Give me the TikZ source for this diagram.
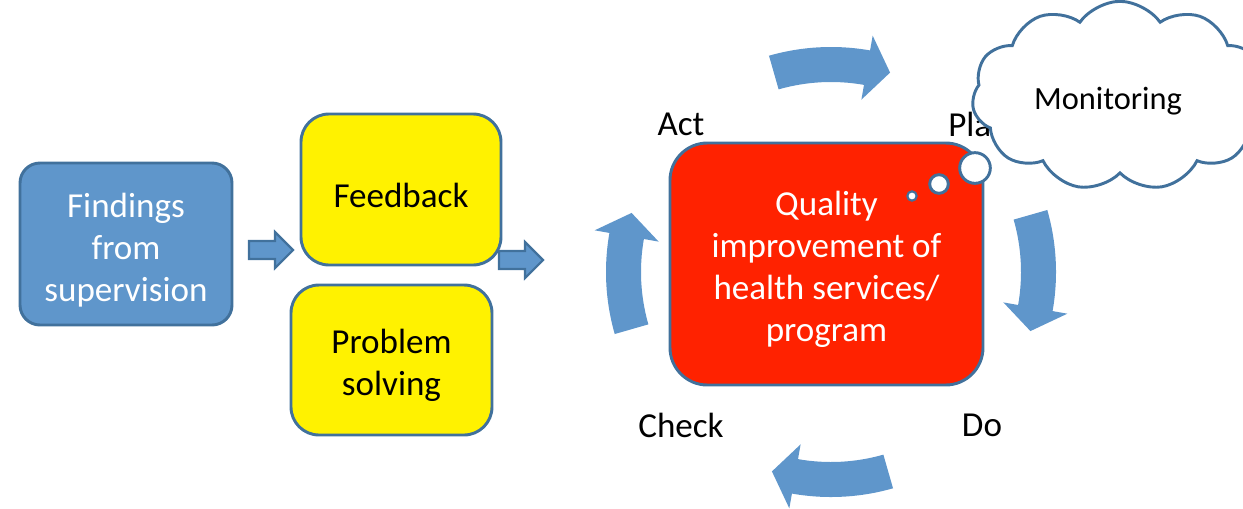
\documentclass[tikz,border=0pt]{standalone}
\usepackage{fontspec}
\setmainfont{Carlito}
\usetikzlibrary{shapes.symbols}
\definecolor{bluefill}{HTML}{5F96CB}
\definecolor{edgeblue}{HTML}{41719C}
\definecolor{qred}{HTML}{FF2200}
\newcommand\mytstrut{\rule{0pt}{27pt}}
\begin{document}
\begin{tikzpicture}[x=0.75pt,y=0.75pt,
  big/.style={font=\fontsize{26.3}{31.5}\selectfont},
  box/.style={draw=edgeblue, line width=2.2pt, align=center, inner sep=0pt, big},
  bluebox/.style={box, fill=bluefill, text=white, rounded corners=15pt},
  yellowbox/.style={box, fill=yellow, text=black, rounded corners=21pt},
  redbox/.style={box, fill=qred, text=white, rounded corners=28pt},
  phase/.style={big, text=black, inner sep=0pt},
  blockarrow/.style={draw=edgeblue, line width=1.6pt, fill=bluefill, line join=miter},
  cycarrow/.style={fill=bluefill},
  bubble/.style={draw=edgeblue, line width=2.2pt, fill=white}
]
\useasboundingbox (0,0) rectangle (1243,-508);

% boxes
\node[bluebox, minimum width=159pt, minimum height=121.5pt] (find) at (126,-244) {\mytstrut Findings\\from\\supervision};
\node[yellowbox, minimum width=150pt, minimum height=113.25pt] (feed) at (401,-189.5) {\mytstrut Feedback};
\node[yellowbox, minimum width=150.75pt, minimum height=112.5pt] (prob) at (391.5,-360) {\mytstrut Problem\\solving};
\node[redbox, minimum width=234.75pt, minimum height=181.5pt] (qi) at (826.5,-264) {\mytstrut Quality\\improvement of\\health services/\\program};

% small block arrows
\draw[blockarrow] (249,-241) -- (275,-241) -- (275,-232) -- (293,-250) -- (275,-268) -- (275,-259) -- (249,-259) -- cycle;
\draw[blockarrow] (499,-251) -- (525,-251) -- (525,-242) -- (543,-260) -- (525,-278) -- (525,-269) -- (499,-269) -- cycle;

% PDCA labels
\node[phase] (act) at (681,-124) {Act};
\node[phase] (plan) at (979,-124) {Plan};
\node[phase] (check) at (681,-425) {Check};
\node[phase] (do) at (982,-425) {Do};

% cycle arrows
\coordinate (C) at (831,-272);
\begin{scope}[shift={(C)}]
\foreach \o in {0,90,180,270}{
  \pgfmathsetmacro\aT{106-\o}
  \pgfmathsetmacro\aH{80-\o}
  \pgfmathsetmacro\aP{73.5-\o}
  \fill[cycarrow] (\aT:168.75pt) arc[start angle=\aT, end angle=\aH, radius=168.75pt]
     -- (\aH:180pt) -- (\aP:156pt) -- (\aH:131.25pt) -- (\aH:142.5pt)
     arc[start angle=\aH, end angle=\aT, radius=142.5pt] -- cycle;
}
\end{scope}

% cloud
\node[cloud, cloud puffs=11, cloud puff arc=110, aspect=1.5, draw=edgeblue, line width=2.2pt, fill=white,
  minimum width=222pt, minimum height=142pt, inner sep=0pt] (cloud) at (1120,-96) {};
\node[font=\fontsize{24.3}{29}\selectfont, inner sep=0pt] (mon) at (1108,-101) {Monitoring};

% thought bubbles
\node[bubble, circle, minimum size=23pt, inner sep=0pt] (b1) at (975,-168) {};
\node[bubble, circle, minimum size=14pt, inner sep=0pt] (b2) at (939,-184) {};
\node[bubble, circle, minimum size=7pt, inner sep=0pt, line width=1.6pt] (b3) at (912,-196) {};
\end{tikzpicture}
\end{document}
